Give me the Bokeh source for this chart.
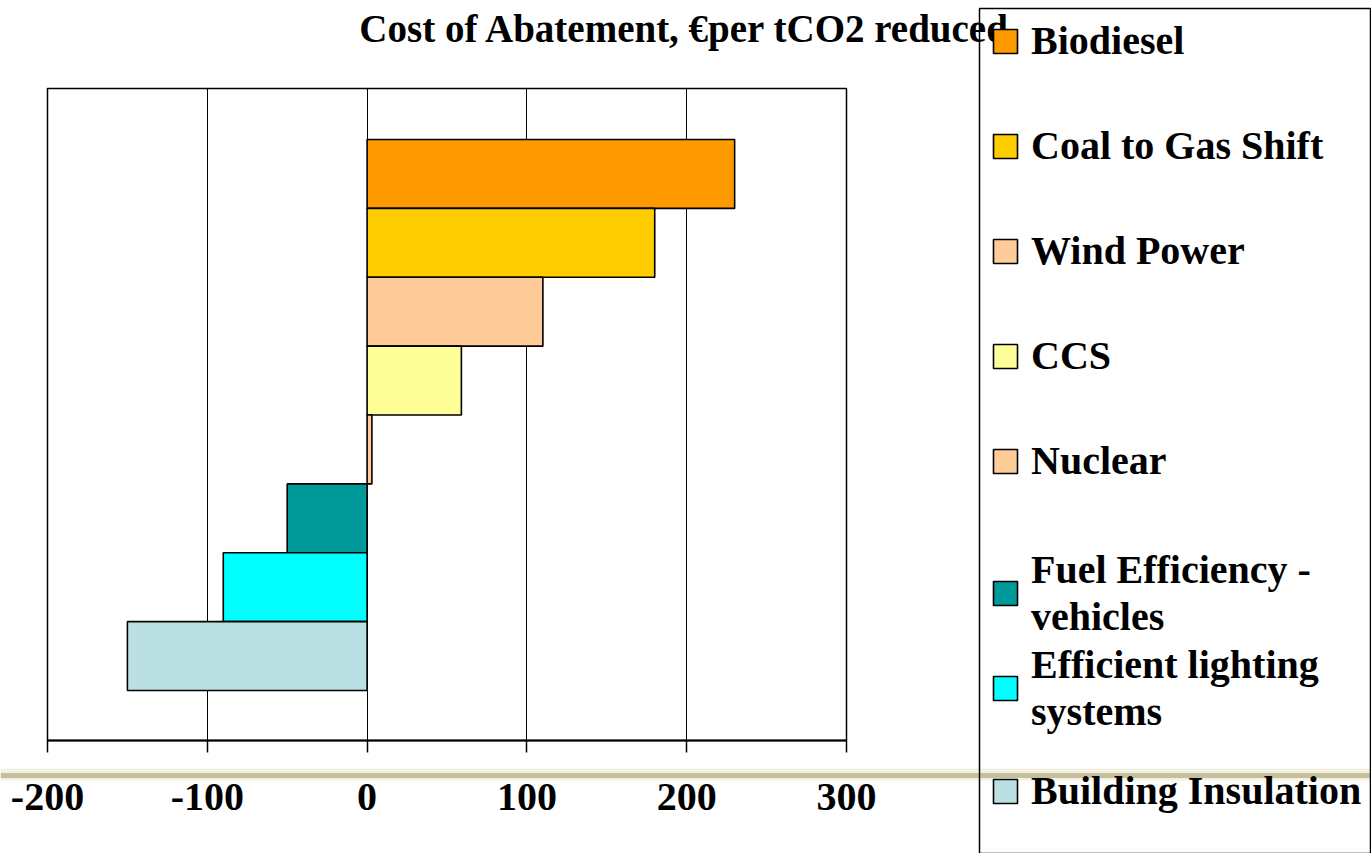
from bokeh.plotting import figure
from bokeh.models import (Range1d, Legend, LegendItem, BoxAnnotation, Label,
                          FixedTicker, ColumnDataSource)
from bokeh.embed import file_html
from bokeh.resources import INLINE

# ---- data ----
categories = ["Biodiesel", "Coal to Gas Shift", "Wind Power", "CCS", "Nuclear",
              "Fuel Efficiency - vehicles", "Efficient lighting systems", "Building Insulation"]
legend_labels = ["Biodiesel", "Coal to Gas Shift", "Wind Power", "CCS", "Nuclear",
                 "Fuel Efficiency -\nvehicles", "Efficient lighting\nsystems", "Building Insulation"]
costs = [230, 180, 110, 59, 3, -50, -90, -150]
colors = ["#FF9900", "#FFCC00", "#FFCC99", "#FFFF99", "#FFCC99", "#009999", "#00FFFF", "#BBE0E3"]
x_ticks = [-200, -100, 0, 100, 200, 300]
x_tick_labels = {-200: "-200", -100: "-100", 0: "0", 100: "100", 200: "200", 300: "300"}
title_text = "Cost of Abatement, \u20acper tCO2 reduced"

FONT = "Liberation Serif"
W, H = 1371, 853

# ---- pixel layout of the plot area (canvas px) ----
PX_LEFT, PX_RIGHT = 47, 846          # x = -200 .. 300
PX_TOP, PX_BOTTOM = 88, 740          # plot area box
BAR_PX = (690 - 139) / 8.0           # one category slot
Y0_PX = 690 - BAR_PX / 2             # centre of the lowest bar
XMIN, XMAX = x_ticks[0], x_ticks[-1]
XS = (XMAX - XMIN) / (PX_RIGHT - PX_LEFT)


def xd(px):
    return XMIN + (px - PX_LEFT) * XS


def yd(py):
    return (Y0_PX - py) / BAR_PX


n = len(categories)
pos = list(range(n - 1, -1, -1))
src = ColumnDataSource(dict(cat=categories, pos=pos, cost=costs, color=colors))

p = figure(width=W, height=H, output_backend="svg", toolbar_location=None,
           x_range=Range1d(xd(0), xd(W)), y_range=Range1d(yd(H), yd(0)),
           y_axis_location=None, min_border=0)
p.outline_line_color = None
p.background_fill_color = "white"
p.border_fill_color = "white"

# slide decoration band
p.add_layout(BoxAnnotation(top=yd(768), bottom=yd(780), fill_color="#F3F1E4",
                           fill_alpha=1, line_color=None, level="underlay"))
p.add_layout(BoxAnnotation(top=yd(772.5), bottom=yd(777.5), fill_color="#C6BF9C",
                           fill_alpha=1, line_color=None, level="underlay"))

r = p.hbar(y="pos", left=0, right="cost", height=1.0, fill_color="color",
           line_color="black", line_width=1.6, source=src)

# grid
p.ygrid.grid_line_color = None
p.xgrid.ticker = FixedTicker(ticks=x_ticks)
p.xgrid.grid_line_color = "black"
p.xgrid.grid_line_width = 1
p.xgrid.bounds = (XMIN, XMAX)
p.xgrid.cross_bounds = (yd(PX_BOTTOM), yd(PX_TOP))

# plot area box
p.add_layout(BoxAnnotation(left=XMIN, right=XMAX, bottom=yd(PX_BOTTOM), top=yd(PX_TOP),
                           fill_alpha=0, line_color="black", line_alpha=1, line_width=1.5))

# x axis
ax = p.xaxis[0]
ax.fixed_location = yd(PX_BOTTOM)
ax.bounds = (XMIN, XMAX)
ax.ticker = FixedTicker(ticks=x_ticks)
ax.major_label_overrides = x_tick_labels
ax.major_label_text_font = FONT
ax.major_label_text_font_size = "40px"
ax.major_label_text_font_style = "bold"
ax.major_label_text_color = "black"
ax.major_tick_out = 12
ax.major_tick_in = 0
ax.minor_tick_line_color = None
ax.axis_line_width = 2
ax.major_tick_line_width = 1.5
ax.major_tick_line_color = "black"
ax.axis_line_color = "black"
ax.major_label_standoff = 31

# title
p.add_layout(Label(x=xd(684.5), y=yd(28), text=title_text, text_align="center",
                   text_baseline="alphabetic", text_font=FONT, text_font_size="39px",
                   text_font_style="bold", text_color="black"))

# legend frame
p.add_layout(BoxAnnotation(left=xd(979), right=xd(1370), top=yd(8), bottom=None,
                           fill_alpha=0, line_color="black", line_alpha=1, line_width=1.5))

legend_style = dict(orientation="vertical", border_line_color=None, background_fill_alpha=0,
                    label_text_font=FONT, label_text_font_style="bold",
                    label_text_font_size="40px", label_text_color="black",
                    glyph_width=30, glyph_height=30, label_standoff=11, padding=0,
                    spacing=0, margin=0)


def make_items(idx):
    return [LegendItem(label=legend_labels[i], renderers=[r], index=i) for i in idx]


# single-line entries
p.add_layout(Legend(items=make_items(range(0, 5)), location=(990, 340), label_height=105,
                    **legend_style))
# two-line entries
p.add_layout(Legend(items=make_items(range(5, 7)), location=(990, 118), label_height=95,
                    **legend_style))
# last entry
p.add_layout(Legend(items=make_items(range(7, 8)), location=(990, 10), label_height=105,
                    **legend_style))

open("out.html", "w").write(file_html(p, INLINE))
